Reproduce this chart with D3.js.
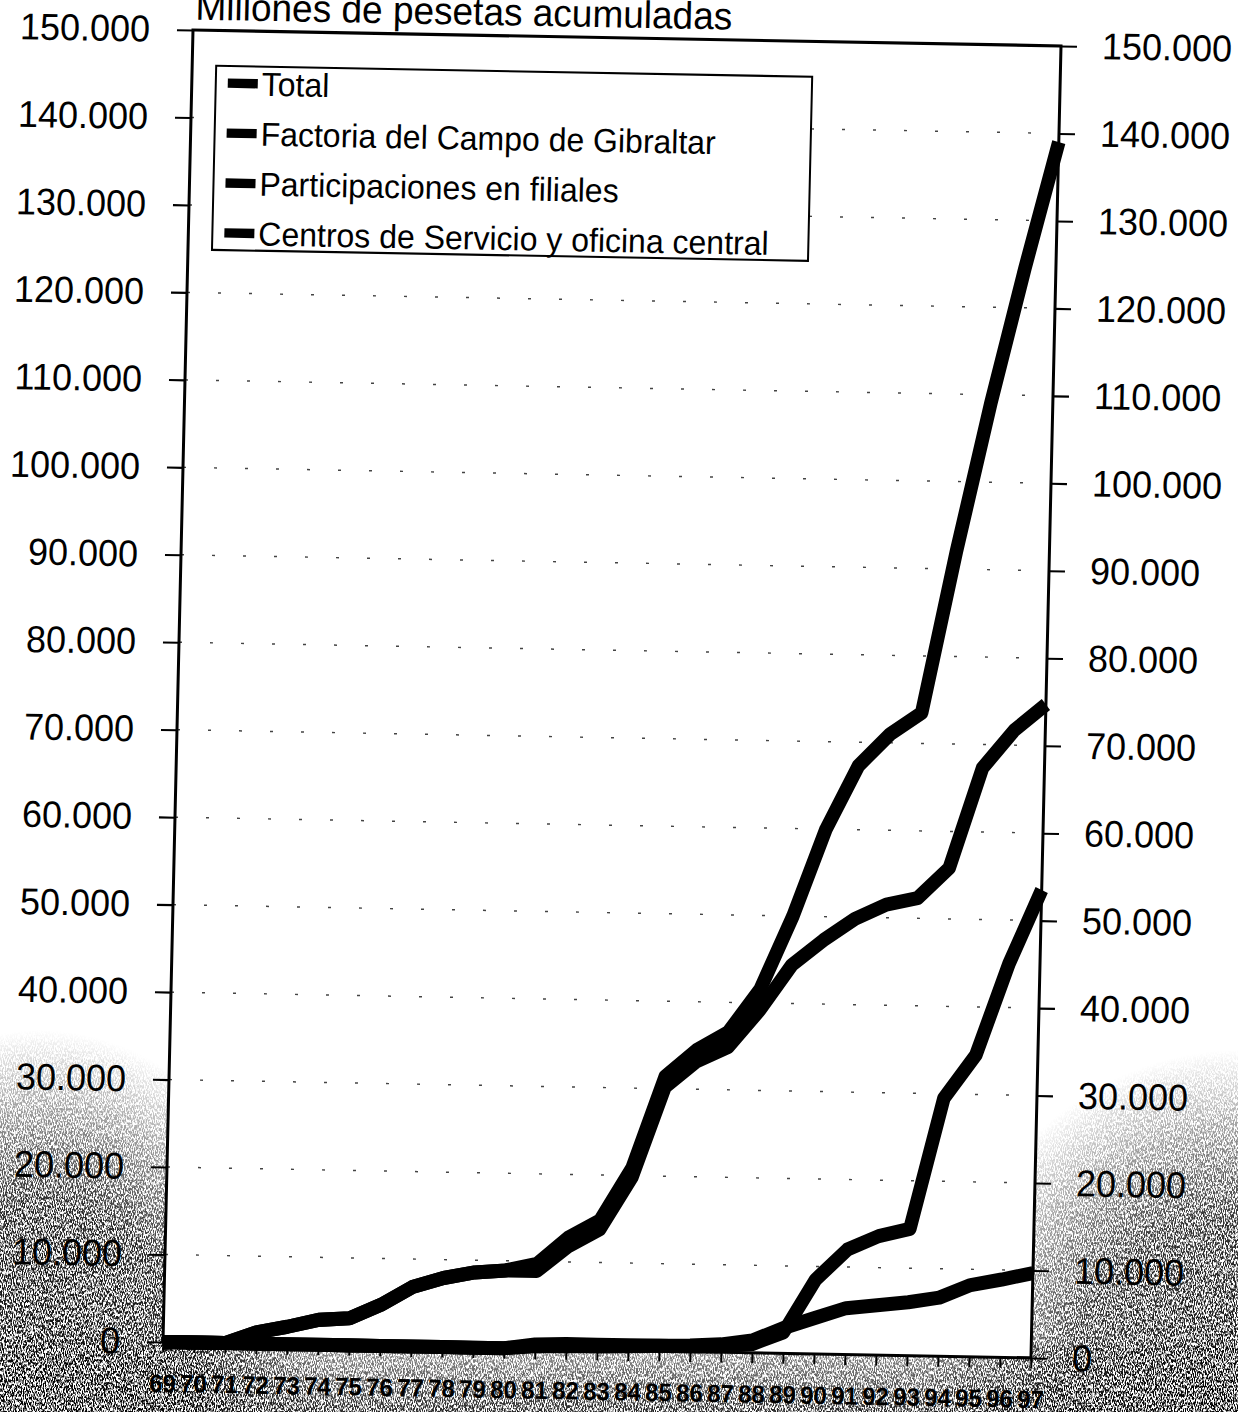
<!DOCTYPE html>
<html>
<head>
<meta charset="utf-8">
<script src="https://cdn.jsdelivr.net/npm/d3@7"></script>
<style>
  html, body { margin: 0; padding: 0; background: #fff; }
  svg { display: block; }
</style>
</head>
<body>
<script>
// Cumulative investment, millions of pesetas, 1969-1997
const years = ["69","70","71","72","73","74","75","76","77","78","79","80","81","82","83",
               "84","85","86","87","88","89","90","91","92","93","94","95","96","97"];
const total           = [0,0,0,1300,2000,2850,3100,4700,6800,7900,8600,8900,9700,12800,14800,
                         20900,31400,34500,36600,41600,50000,60000,67300,71000,73500,92000,109000,124500,139000];
const factoria        = [0,0,0,1300,2000,2850,3100,4700,6800,7900,8600,8900,8900,11800,13800,
                         19800,30200,33200,34900,39200,44400,47300,49800,51500,52300,55800,67300,71700,74700];
const participaciones = [0,0,0,0,0,0,0,0,0,0,0,0,500,600,600,
                         600,600,600,700,1000,2400,8500,12000,13600,14500,29500,34500,45000,53500];
const centros         = [0,0,0,0,0,0,0,0,0,0,0,0,300,400,400,
                         500,600,700,900,1400,2900,4100,5300,5700,6100,6700,8200,8900,9700];
const seriesNames = ["Total", "Factoria del Campo de Gibraltar",
                     "Participaciones en filiales", "Centros de Servicio y oficina central"];
const yTicks = d3.range(0, 150001, 10000);
const title = "Millones de pesetas acumuladas";

const WIDTH = 1238, HEIGHT = 1412;
const W = 868, H = 1261.5;              // plot area in the page's own frame
const FONT = "'Liberation Sans', Arial, Helvetica, sans-serif";

const svg = d3.select("body").append("svg")
  .attr("width", WIDTH).attr("height", HEIGHT)
  .attr("viewBox", `0 0 ${WIDTH} ${HEIGHT}`);

// ---- grainy paper texture at the lower corners ----
const defs = svg.append("defs");
const grain = defs.append("filter").attr("id", "grain")
  .attr("x", 0).attr("y", 0).attr("width", "100%").attr("height", "100%")
  .attr("filterUnits", "userSpaceOnUse");
grain.append("feTurbulence").attr("type", "fractalNoise")
  .attr("baseFrequency", "1.1 0.35").attr("numOctaves", 2).attr("seed", 7).attr("result", "n");
grain.append("feColorMatrix").attr("in", "n").attr("type", "matrix")
  .attr("values", "0 0 0 0 0  0 0 0 0 0  0 0 0 0 0  5 0 0 0 -2.0");

function radial(id, stops) {
  const g = defs.append("radialGradient").attr("id", id);
  stops.forEach(([o, a]) => g.append("stop").attr("offset", o).attr("stop-color", "#fff").attr("stop-opacity", a));
}
radial("blobL", [[0, 1], [0.55, 0.85], [1, 0]]);
radial("blobR", [[0, 1], [0.55, 0.8], [1, 0]]);
const lin = defs.append("linearGradient").attr("id", "strip").attr("x1", 0).attr("x2", 0).attr("y1", 0).attr("y2", 1);
lin.append("stop").attr("offset", 0).attr("stop-color", "#fff").attr("stop-opacity", 0.4);
lin.append("stop").attr("offset", 1).attr("stop-color", "#fff").attr("stop-opacity", 0.85);

const mask = defs.append("mask").attr("id", "grainMask")
  .attr("maskUnits", "userSpaceOnUse").attr("x", 0).attr("y", 0).attr("width", WIDTH).attr("height", HEIGHT);
mask.append("ellipse").attr("cx", 40).attr("cy", 1420).attr("rx", 290).attr("ry", 390).attr("fill", "url(#blobL)");
mask.append("ellipse").attr("cx", 1238).attr("cy", 1420).attr("rx", 320).attr("ry", 370).attr("fill", "url(#blobR)");
mask.append("rect").attr("x", 0).attr("y", 1345).attr("width", WIDTH).attr("height", 67).attr("fill", "url(#strip)");

svg.append("rect").attr("width", WIDTH).attr("height", HEIGHT)
  .attr("filter", "url(#grain)").attr("mask", "url(#grainMask)");

// ---- chart frame (page is slightly skewed) ----
const g = svg.append("g").attr("transform", "matrix(1,0.0184,-0.0238,1.04,193,30)");

const x = d3.scalePoint().domain(years).range([0, W]);
const y = d3.scaleLinear().domain([0, 150000]).range([H, 0]);

const loc = d3.formatLocale({ decimal: ",", thousands: ".", grouping: [3], currency: ["", ""] });
const fmt = loc.format(",");

g.append("rect").attr("x", 0).attr("y", 0).attr("width", W).attr("height", H).attr("fill", "#fff");

// dotted gridlines
g.append("g").selectAll("line").data(yTicks.filter(v => v > 0 && v < 150000)).join("line")
  .attr("x1", 0).attr("x2", W).attr("y1", d => y(d)).attr("y2", d => y(d))
  .attr("stroke", "#444").attr("stroke-width", 1.4).attr("stroke-dasharray", "3,28");

// title
g.append("text").attr("x", 2).attr("y", -10)
  .attr("font-family", FONT).attr("font-size", 37).attr("fill", "#000").text(title);

// axes
function styleAxis(sel, fs, weight) {
  sel.select(".domain").remove();
  sel.selectAll("line").attr("stroke", "#000").attr("stroke-width", 2);
  sel.selectAll("text").attr("font-family", FONT).attr("font-size", fs)
     .attr("font-weight", weight).attr("fill", "#000");
}
g.append("g")
  .call(d3.axisLeft(y).tickValues(yTicks).tickFormat(fmt).tickSize(16).tickPadding(27))
  .call(s => styleAxis(s, 36, "normal"));
g.append("g").attr("transform", `translate(${W},0)`)
  .call(d3.axisRight(y).tickValues(yTicks).tickFormat(fmt).tickSize(16).tickPadding(25))
  .call(s => styleAxis(s, 36, "normal"));
g.append("g").attr("transform", `translate(0,${H})`)
  .call(d3.axisBottom(x).tickSize(10).tickPadding(21))
  .call(s => styleAxis(s, 24, "bold"));

// plot border
g.append("rect").attr("x", 0).attr("y", 0).attr("width", W).attr("height", H)
  .attr("fill", "none").attr("stroke", "#000").attr("stroke-width", 3);

// series lines
const line = d3.line().x((d, i) => x(years[i])).y(d => y(d));
const series = [centros, participaciones, factoria, total];
g.append("g").selectAll("path").data(series).join("path")
  .attr("d", line)
  .attr("fill", "none").attr("stroke", "#000").attr("stroke-width", 13.5)
  .attr("stroke-linejoin", "round").attr("stroke-linecap", "butt");

// legend
const lg = g.append("g").attr("transform", "translate(24,34)");
lg.append("rect").attr("width", 596).attr("height", 177)
  .attr("fill", "#fff").attr("stroke", "#000").attr("stroke-width", 2);
const items = lg.selectAll("g.item").data(seriesNames).join("g")
  .attr("class", "item").attr("transform", (d, i) => `translate(0,${16.5 + i * 48})`);
items.append("rect").attr("x", 12).attr("y", -4.5).attr("width", 30).attr("height", 9).attr("fill", "#000");
items.append("text").attr("x", 46).attr("y", 0).attr("dy", "0.36em")
  .attr("font-family", FONT).attr("font-size", 32).attr("fill", "#000").text(d => d);
</script>
</body>
</html>
